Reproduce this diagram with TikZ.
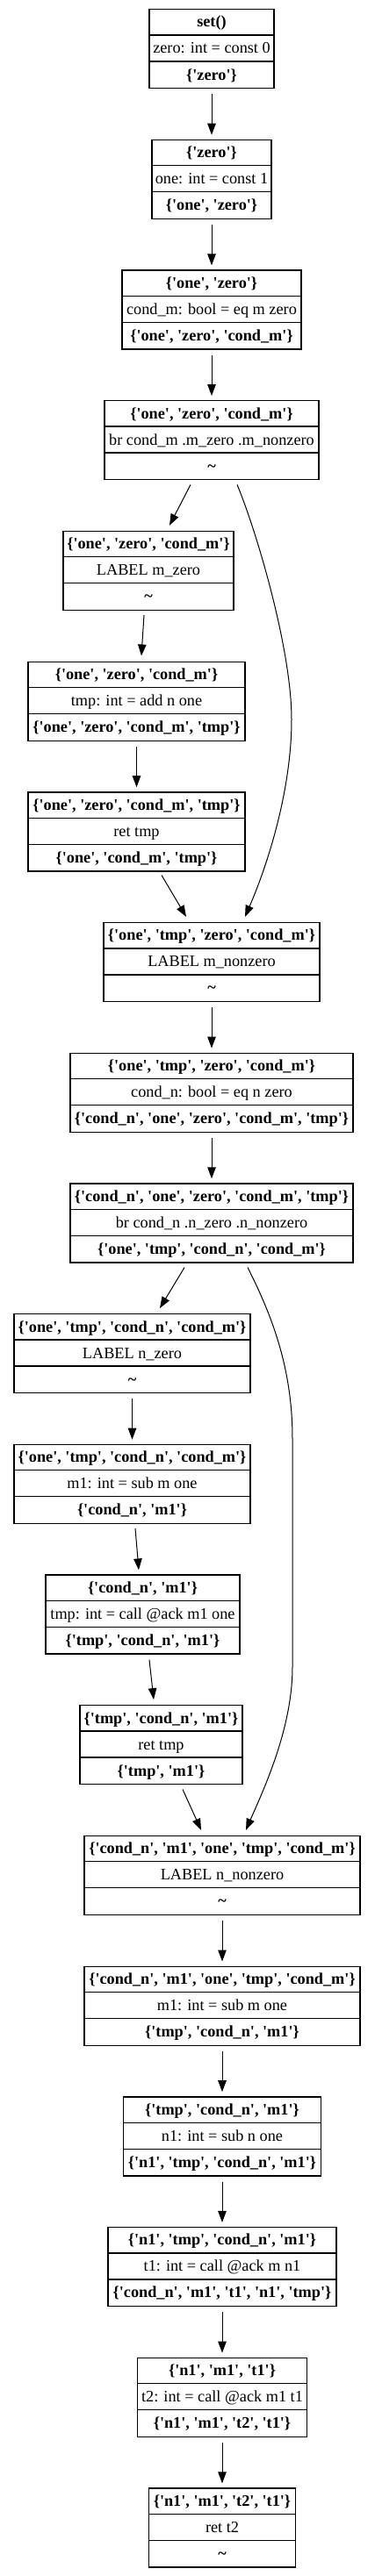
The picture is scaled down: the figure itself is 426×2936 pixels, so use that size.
\documentclass[tikz,border=0pt]{standalone}
\usepackage{fontspec}
\setmainfont{Liberation Serif}[Ligatures=TeXOff]
\usetikzlibrary{arrows.meta,calc}
\tikzset{
  blkbox/.style={draw, line width=1.3pt, minimum height=90pt, inner sep=0pt, anchor=north},
  rowline/.style={line width=1.3pt},
  bt/.style={anchor=base, inner sep=0pt, font=\fontsize{18.25}{22}\selectfont\bfseries},
  nt/.style={anchor=base, inner sep=0pt, font=\fontsize{18.25}{22}\selectfont},
  edge/.style={line width=1pt, -{Triangle[length=13pt,width=9.5pt]}},
  vedge/.style={edge, shorten <=6pt, shorten >=5pt}
}
\newcommand{\blk}[7]{%
  \node[blkbox, minimum width=#4pt] (#1) at (#2,#3) {};
  \draw[rowline] ($(#1.north west)+(0,30)$) -- ($(#1.north east)+(0,30)$);
  \draw[rowline] ($(#1.north west)+(0,60)$) -- ($(#1.north east)+(0,60)$);
  \node[bt] (#1a) at ($(#1.north)+(0,21)$) {#5};
  \node[nt] (#1b) at ($(#1.north)+(0,51)$) {#6};
  \node[bt] (#1c) at ($(#1.north)+(0,81)$) {#7};
}
\begin{document}
\begin{tikzpicture}[x=1pt,y=-1pt]
\useasboundingbox (0,0) rectangle (426,2936);
\blk{n1}{241}{10}{142}{set()}{zero: int = const 0}{\{'zero'\}}
\blk{n2}{241}{158.7}{136}{\{'zero'\}}{one: int = const 1}{\{'one', 'zero'\}}
\blk{n3}{241}{307.4}{204}{\{'one', 'zero'\}}{cond\_m: bool = eq m zero}{\{'one', 'zero', 'cond\_m'\}}
\blk{n4}{241}{456.1}{244}{\{'one', 'zero', 'cond\_m'\}}{br cond\_m .m\_zero .m\_nonzero}{\textasciitilde}
\blk{n5}{169}{604.8}{194}{\{'one', 'zero', 'cond\_m'\}}{LABEL m\_zero}{\textasciitilde}
\blk{n6}{155.5}{753.5}{247}{\{'one', 'zero', 'cond\_m'\}}{tmp: int = add n one}{\{'one', 'zero', 'cond\_m', 'tmp'\}}
\blk{n7}{155.5}{902.2}{247}{\{'one', 'zero', 'cond\_m', 'tmp'\}}{ret tmp}{\{'one', 'cond\_m', 'tmp'\}}
\blk{n8}{241}{1050.9}{246}{\{'one', 'tmp', 'zero', 'cond\_m'\}}{LABEL m\_nonzero}{\textasciitilde}
\blk{n9}{241}{1199.6}{322}{\{'one', 'tmp', 'zero', 'cond\_m'\}}{cond\_n: bool = eq n zero}{\{'cond\_n', 'one', 'zero', 'cond\_m', 'tmp'\}}
\blk{n10}{241}{1348.3}{322}{\{'cond\_n', 'one', 'zero', 'cond\_m', 'tmp'\}}{br cond\_n .n\_zero .n\_nonzero}{\{'one', 'tmp', 'cond\_n', 'cond\_m'\}}
\blk{n11}{150.5}{1497}{269}{\{'one', 'tmp', 'cond\_n', 'cond\_m'\}}{LABEL n\_zero}{\textasciitilde}
\blk{n12}{150.5}{1645.7}{269}{\{'one', 'tmp', 'cond\_n', 'cond\_m'\}}{m1: int = sub m one}{\{'cond\_n', 'm1'\}}
\blk{n13}{162.5}{1794.4}{221}{\{'cond\_n', 'm1'\}}{tmp: int = call @ack m1 one}{\{'tmp', 'cond\_n', 'm1'\}}
\blk{n14}{183.5}{1943.1}{185}{\{'tmp', 'cond\_n', 'm1'\}}{ret tmp}{\{'tmp', 'm1'\}}
\blk{n15}{253}{2091.8}{314}{\{'cond\_n', 'm1', 'one', 'tmp', 'cond\_m'\}}{LABEL n\_nonzero}{\textasciitilde}
\blk{n16}{253}{2240.5}{314}{\{'cond\_n', 'm1', 'one', 'tmp', 'cond\_m'\}}{m1: int = sub m one}{\{'tmp', 'cond\_n', 'm1'\}}
\blk{n17}{253}{2389.2}{225}{\{'tmp', 'cond\_n', 'm1'\}}{n1: int = sub n one}{\{'n1', 'tmp', 'cond\_n', 'm1'\}}
\blk{n18}{253}{2537.9}{260}{\{'n1', 'tmp', 'cond\_n', 'm1'\}}{t1: int = call @ack m n1}{\{'cond\_n', 'm1', 't1', 'n1', 'tmp'\}}
\blk{n19}{253}{2686.6}{193}{\{'n1', 'm1', 't1'\}}{t2: int = call @ack m1 t1}{\{'n1', 'm1', 't2', 't1'\}}
\blk{n20}{253}{2835.3}{167}{\{'n1', 'm1', 't2', 't1'\}}{ret t2}{\textasciitilde}
% straight vertical edges
\draw[vedge] (n1.south) -- (n2.north);
\draw[vedge] (n2.south) -- (n3.north);
\draw[vedge] (n3.south) -- (n4.north);
\draw[vedge] (n6.south) -- (n7.north);
\draw[vedge] (n8.south) -- (n9.north);
\draw[vedge] (n9.south) -- (n10.north);
\draw[vedge] (n11.south) -- (n12.north);
\draw[vedge] (n15.south) -- (n16.north);
\draw[vedge] (n16.south) -- (n17.north);
\draw[vedge] (n17.south) -- (n18.north);
\draw[vedge] (n18.south) -- (n19.north);
\draw[vedge] (n19.south) -- (n20.north);
% slanted edges
\draw[edge] ($(n4.south)+(-24,5)$) -- ($(n5.north)+(24,-6)$);
\draw[edge] ($(n5.south)+(-5,5)$) -- ($(n6.north)+(5.5,-6)$);
\draw[edge] ($(n7.south)+(28.5,4)$) -- ($(n8.north)+(-29,-6)$);
\draw[edge] ($(n10.south)+(-31,5)$) -- ($(n11.north)+(31.5,-6)$);
\draw[edge] ($(n12.south)+(3.5,5)$) -- ($(n13.north)+(-4.5,-5)$);
\draw[edge] ($(n13.south)+(7.5,6)$) -- ($(n14.north)+(-8.5,-6)$);
\draw[edge] ($(n14.south)+(24.5,5)$) -- ($(n15.north)+(-24,-6)$);
% curved edges
\coordinate (c1) at (332,820);
\draw[edge] ($(n4.south)+(29,5)$) .. controls (292,605) and (332,740) .. (c1)
  .. controls (332,900) and (305,985) .. ($(n8.north)+(38,-6)$);
\coordinate (c2) at (333,1640);
\coordinate (c3) at (333,1900);
\draw[edge] ($(n10.south)+(41,5)$) .. controls (310,1500) and (333,1560) .. (c2)
  -- (c3) .. controls (333,1970) and (300,2040) .. ($(n15.north)+(27,-6)$);
\end{tikzpicture}
\end{document}
